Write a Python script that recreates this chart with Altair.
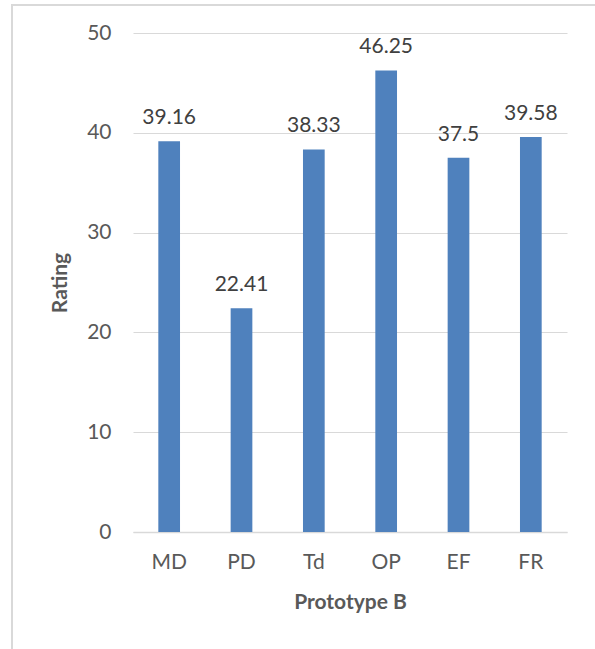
import altair as alt
import pandas as pd

# Ratings per criterion for Prototype B
criteria = ["MD", "PD", "Td", "OP", "EF", "FR"]
ratings = [39.16, 22.41, 38.33, 46.25, 37.5, 39.58]
y_ticks = [0, 10, 20, 30, 40, 50]

df = pd.DataFrame({"criterion": criteria, "rating": ratings})

FONT = "Lato"
BAR = "#4F81BD"
GRID = "#D9D9D9"
AXIS_TXT = "#595959"
LABEL_TXT = "#404040"
FS = 21

W, H = 434, 499
PAD_L, PAD_T = 133, 33

x_enc = alt.X(
    "criterion:N",
    sort=criteria,
    scale=alt.Scale(paddingInner=0.7, paddingOuter=0.35),
    axis=alt.Axis(
        title="Prototype B",
        titleFont=FONT,
        titleFontSize=FS,
        titleFontWeight="bold",
        titleColor=AXIS_TXT,
        titlePadding=19,
        labelFont=FONT,
        labelFontSize=FS,
        labelColor=AXIS_TXT,
        labelAngle=0,
        labelPadding=19,
        ticks=False,
        domainColor=GRID,
        domainWidth=1.5,
        grid=False,
    ),
)

y_enc = alt.Y(
    "rating:Q",
    scale=alt.Scale(domain=[0, 50], nice=False),
    axis=alt.Axis(
        title="Rating",
        titleFont=FONT,
        titleFontSize=FS,
        titleFontWeight="bold",
        titleColor=AXIS_TXT,
        titlePadding=16,
        labelFont=FONT,
        labelFontSize=FS,
        labelColor=AXIS_TXT,
        labelPadding=22,
        values=y_ticks,
        ticks=False,
        domain=False,
        grid=True,
        gridColor=GRID,
        gridWidth=1.2,
    ),
)

bars = alt.Chart(df).mark_bar(color=BAR).encode(x=x_enc, y=y_enc)

labels = alt.Chart(df).mark_text(
    font=FONT, fontSize=FS, color=LABEL_TXT, baseline="alphabetic", dy=-17
).encode(
    x=alt.X("criterion:N", sort=criteria),
    y=alt.Y("rating:Q"),
    text=alt.Text("rating:Q"),
)

# light outer frame around the chart area
frame = alt.Chart(df).mark_rect(
    fill=None, stroke=GRID, strokeWidth=1.5
).encode(
    x=alt.value(12 - PAD_L),
    x2=alt.value(620 - PAD_L),
    y=alt.value(5 - PAD_T),
    y2=alt.value(680 - PAD_T),
)

chart = (
    alt.layer(frame, bars, labels)
    .properties(
        width=W,
        height=H,
        background="white",
        autosize=alt.AutoSizeParams(type="none"),
        padding={"left": PAD_L, "top": PAD_T, "right": 595 - PAD_L - W, "bottom": 649 - PAD_T - H},
    )
    .configure_view(strokeWidth=0, stroke="transparent")
)

chart.save("out.html", embed_options={"renderer": "svg", "actions": False})
